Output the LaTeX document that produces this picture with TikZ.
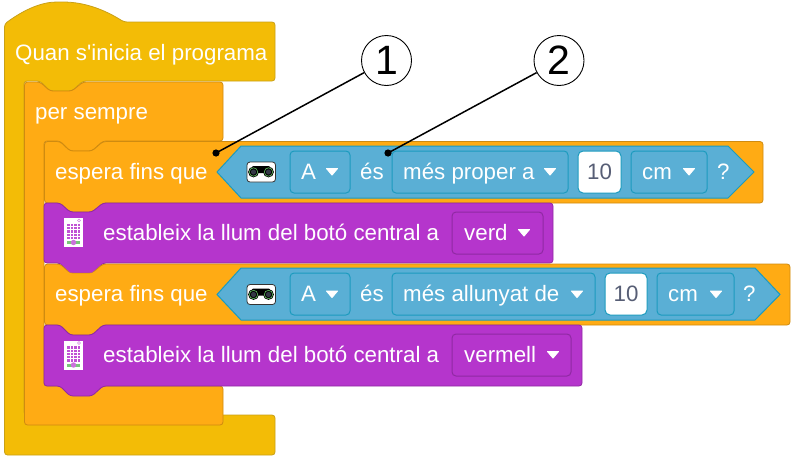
\documentclass[tikz,border=0pt]{standalone}
\usepackage{fontspec}
\setmainfont{Liberation Sans}
\definecolor{yel}{HTML}{F3BC06}
\definecolor{yelb}{HTML}{C9A016}
\definecolor{org}{HTML}{FFAB14}
\definecolor{orgb}{HTML}{CF8B10}
\definecolor{pur}{HTML}{B535CC}
\definecolor{purb}{HTML}{9029A3}
\definecolor{blu}{HTML}{5AAFD5}
\definecolor{blub}{HTML}{1C9BBE}
\definecolor{numc}{HTML}{575E75}
\tikzset{
 blocktxt/.style={inner sep=0pt,anchor=base west,text=white,font=\fontsize{22.3}{24}\selectfont},
 numtxt/.style={inner sep=0pt,anchor=base,text=numc,font=\fontsize{22.3}{24}\selectfont},
 yblock/.style={fill=yel,draw=yelb,line width=0.8pt,rounded corners=3pt},
 oblock/.style={fill=org,draw=orgb,line width=0.8pt,rounded corners=3pt},
 pblock/.style={fill=pur,draw=purb,line width=0.8pt,rounded corners=3pt},
 hexa/.style={fill=blu,draw=blub,line width=1pt},
 ddown/.style={draw=blub,line width=1pt,rounded corners=4pt},
 pdown/.style={draw=purb,line width=1pt,rounded corners=4pt},
 numbox/.style={fill=white,draw=blub,line width=1pt,rounded corners=5pt},
 tri/.style={fill=white,draw=white,line width=1pt,line join=round},
 callout/.style={circle,draw=black,fill=white,line width=0.9pt,minimum size=50pt,inner sep=0pt,font=\fontsize{41}{44}\selectfont},
 leader/.style={draw=black,line width=1.5pt},
 leaddot/.style={fill=black},
}
\newcommand{\ddtri}[2]{\draw[tri] (#1-5.5,#2-3.5) -- (#1+5.5,#2-3.5) -- (#1,#2+3) -- cycle;}
\newcommand{\sensoricon}[1]{%
 \begin{scope}[shift={(0,#1)}]
 \draw[fill=white,draw=black!80,line width=0.8pt,rounded corners=3pt] (247,162) rectangle (275.5,182);
 \fill[black,rounded corners=1pt] (252,166) rectangle (270,173);
 \foreach \cx in {253.5,268.5}{
  \fill[black] (\cx,172) circle (5.4);
  \draw[green!60!black!60,line width=0.6pt] (\cx,172) circle (4.2);
  \fill[numc!60!black] (\cx,172) circle (2.6);
 }
 \end{scope}}
\newcommand{\ledicon}[1]{%
 \begin{scope}[shift={(0,#1)}]
 \fill[white] (64,218) rectangle (83,247);
 \fill[pur!85] (67,223.5) rectangle (80,239);
 \foreach \gx in {70.25,73.5,76.75} \draw[white,line width=0.45pt] (\gx,223.5) -- (\gx,239);
 \foreach \gy in {226.6,229.7,232.8,235.9} \draw[white,line width=0.45pt] (67,\gy) -- (80,\gy);
 \fill[green!40!gray!75] (67,241) rectangle (80,244);
 \fill[pur!70] (73.5,242.5) circle (2.7);
 \draw[pur!60,line width=0.6pt] (79,220.5) circle (1.5);
 \end{scope}}
\begin{document}
\begin{tikzpicture}[x=1pt,y=-1pt]
\useasboundingbox (0,0) rectangle (794,461);
% hat block
\path[yblock] (4.5,24) .. controls (25,9) and (42,2) .. (60,2) .. controls (85,2) and (105,10) .. (124,22) -- (275,22) -- (275,81) -- (83,81) -- (72,91) -- (50,91) -- (40,81) -- (24,81) -- (24,415) -- (275,415) -- (275,455) -- (4.5,455) -- cycle;
% forever block
\path[oblock] (24.5,82) -- (40,82) -- (50,91) -- (72,91) -- (83,82) -- (223,82) -- (223,141) -- (103,141) -- (92,151) -- (70,151) -- (60,141) -- (44,141) -- (44,386) -- (223,386) -- (223,425) -- (24.5,425) -- cycle;
% wait 1
\path[oblock] (44.5,141.5) -- (60,141.5) -- (70,151) -- (92,151) -- (103,141.5) -- (763,141.5) -- (763,203) -- (103,203) -- (92,212) -- (70,212) -- (60,203) -- (44.5,203) -- cycle;
% purple 1
\path[pblock] (44,203) -- (60,203) -- (70,212) -- (92,212) -- (103,203) -- (553,203) -- (553,263) -- (103,263) -- (92,273) -- (70,273) -- (60,263) -- (44,263) -- cycle;
% wait 2
\path[oblock] (44.5,264) -- (60,264) -- (70,273) -- (92,273) -- (103,264) -- (790,264) -- (790,325) -- (103,325) -- (92,335) -- (70,335) -- (60,325) -- (44.5,325) -- cycle;
\fill[pur] (60.5,263) -- (70,272.6) -- (92,272.6) -- (102.5,263) -- cycle;
% purple 2
\path[pblock] (44,325) -- (60,325) -- (70,335) -- (92,335) -- (103,325) -- (582,325) -- (582,386) -- (103,386) -- (92,396) -- (70,396) -- (60,386) -- (44,386) -- cycle;
% hexagons
\path[hexa] (217,172) -- (241,146) -- (728,146) -- (754,172) -- (728,198) -- (241,198) -- cycle;
\path[hexa] (217,294.5) -- (241,268) -- (755,268) -- (780,294.5) -- (755,320) -- (241,320) -- cycle;
% dropdowns row 1
\path[ddown] (290,151) rectangle (350,193);
\path[ddown] (392,151) rectangle (568,193);
\path[numbox] (578,151) rectangle (621,193);
\path[ddown] (631,151) rectangle (707,193);
\ddtri{332}{172}\ddtri{550}{172}\ddtri{689}{172}
% dropdowns row 2
\path[ddown] (290,273) rectangle (350,315);
\path[ddown] (392,273) rectangle (595,315);
\path[numbox] (605,273) rectangle (647,315);
\path[ddown] (657,273) rectangle (734,315);
\ddtri{332}{294.5}\ddtri{577}{294.5}\ddtri{716}{294.5}
% purple dropdowns
\path[pdown] (452,212) rectangle (543,254);
\path[pdown] (452,334) rectangle (571,376);
\ddtri{524}{233}\ddtri{553}{355}
% icons
\sensoricon{0}
\sensoricon{122.5}
\ledicon{0}
\ledicon{122.5}
% texts
\node[blocktxt] (t1) at (15,60) {Quan s\textquotesingle inicia el programa};
\node[blocktxt] (t2) at (35,119) {per sempre};
\node[blocktxt] (t3) at (55,179) {espera fins que};
\node[blocktxt] (t4) at (103,240) {estableix la llum del botó central a};
\node[blocktxt] (t5) at (464,240) {verd};
\node[blocktxt] (t6) at (55,301) {espera fins que};
\node[blocktxt] (t7) at (103,362) {estableix la llum del botó central a};
\node[blocktxt] (t8) at (464,362) {vermell};
\node[blocktxt] (a1) at (301,179) {A};
\node[blocktxt] (e1) at (360,179) {és};
\node[blocktxt] (m1) at (403,179) {més proper a};
\node[numtxt] (n1) at (599.5,179) {10};
\node[blocktxt] (c1) at (642,179) {cm};
\node[blocktxt] (q1) at (717,179) {?};
\node[blocktxt] (a2) at (301,301) {A};
\node[blocktxt] (e2) at (360,301) {és};
\node[blocktxt] (m2) at (403,301) {més allunyat de};
\node[numtxt] (n2) at (626,301) {10};
\node[blocktxt] (c2) at (668,301) {cm};
\node[blocktxt] (q2) at (743,301) {?};
% callouts
\node[callout] (k1) at (386.5,60.5) {1};
\node[callout] (k2) at (559,60.5) {2};
\coordinate (d1) at (216,153);
\coordinate (d2) at (388,153);
\draw[leader] (k1) -- (d1);
\draw[leader] (k2) -- (d2);
\fill[leaddot] (d1) circle (3.6);
\fill[leaddot] (d2) circle (3.6);
\end{tikzpicture}
\end{document}
